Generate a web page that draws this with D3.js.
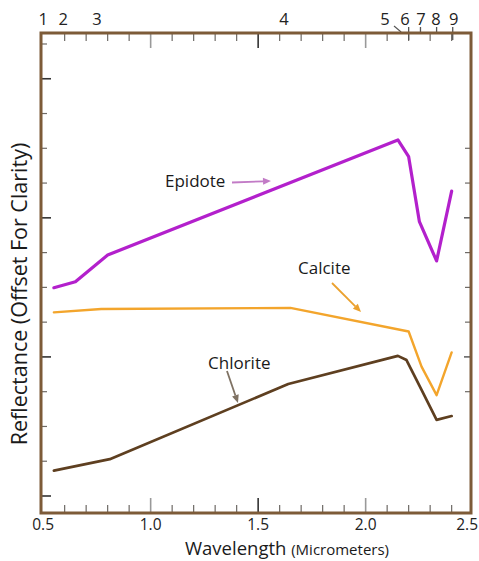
<!DOCTYPE html>
<html>
<head>
<meta charset="utf-8">
<script src="https://cdn.jsdelivr.net/npm/d3@7"></script>
<style>
  html, body { margin: 0; padding: 0; background: #fff; }
  svg { display: block; font-family: "Open Sans", "Noto Sans", sans-serif; }
</style>
</head>
<body>
<svg id="chart" width="479" height="561"></svg>
<script>
// Spectral reflectance curves (offset for clarity), wavelengths in micrometers
const epidoteWl = [0.55, 0.65, 0.80, 2.15, 2.20, 2.25, 2.33, 2.40];
const epidoteRefl = [5.99, 6.16, 6.93, 10.24, 9.76, 7.89, 6.76, 8.77];

const calciteWl = [0.55, 0.77, 1.65, 2.20, 2.26, 2.33, 2.40];
const calciteRefl = [5.28, 5.38, 5.41, 4.73, 3.72, 2.90, 4.13];

const chloriteWl = [0.55, 0.81, 1.64, 2.15, 2.19, 2.26, 2.33, 2.40];
const chloriteRefl = [0.73, 1.06, 3.22, 4.03, 3.91, 3.05, 2.19, 2.30];

// Sensor band numbers along the top edge
const bandLabels = ["1", "2", "3", "4", "5", "6", "7", "8", "9"];
const bandLabelWl = [0.50, 0.593, 0.75, 1.62, 2.09, 2.183, 2.257, 2.327, 2.41];
const swirBandLabels = ["5", "6", "7", "8", "9"];
const swirBandWl = [2.165, 2.20, 2.255, 2.33, 2.405];

// Axis tick labels
const xTickValues = [0.5, 1.0, 1.5, 2.0, 2.5];
const xTickLabels = ["0.5", "1.0", "1.5", "2.0", "2.5"];

const svg = d3.select("#chart");
const plotLeft = 41, plotRight = 471, plotTop = 33, plotBottom = 513;
const width = 479;

const x = d3.scaleLinear().domain([0.49, 2.49]).range([plotLeft, plotRight]);
const y = d3.scaleLinear().domain([-0.489, 13.316]).range([plotBottom, plotTop]);

const frameColor = "#7d5b38";
const tickColor = "#6e6a66";

// Minor ticks every 0.1 µm, long ticks every 0.5 µm
const xMinor = d3.range(6, 25).map(d => d / 10);
const isMajor = v => Math.abs(v * 2 - Math.round(v * 2)) < 1e-6;

const gTicks = svg.append("g");
xMinor.forEach(v => {
  const len = isMajor(v) ? 15 : 8;
  const col = Math.abs(v - 1.5) < 1e-6 ? "#333" : (isMajor(v) ? "#999" : tickColor);
  gTicks.append("line")
    .attr("x1", x(v)).attr("x2", x(v))
    .attr("y1", plotTop).attr("y2", plotTop + len)
    .attr("stroke", col).attr("stroke-width", isMajor(v) ? 1.6 : 1.2);
  gTicks.append("line")
    .attr("x1", x(v)).attr("x2", x(v))
    .attr("y1", plotBottom).attr("y2", plotBottom - len)
    .attr("stroke", col).attr("stroke-width", isMajor(v) ? 1.6 : 1.2);
});

// Reflectance ticks (unlabelled) on both sides
const yTicks = d3.range(0, 14);
yTicks.forEach(v => {
  const major = v % 4 === 0;
  gTicks.append("line")
    .attr("x1", plotLeft).attr("x2", plotLeft + (major ? 10 : 6))
    .attr("y1", y(v)).attr("y2", y(v))
    .attr("stroke", major ? "#333" : tickColor).attr("stroke-width", major ? 1.6 : 1.2);
  if (v >= 3 && v <= 10) {
    gTicks.append("line")
      .attr("x1", plotRight).attr("x2", plotRight - (major ? 7 : 6))
      .attr("y1", y(v)).attr("y2", y(v))
      .attr("stroke", major ? "#333" : tickColor).attr("stroke-width", 1.2);
  }
});

// Bottom axis labels (the last one sits flush with the page edge)
const nearEdge = d => x(d) > width - 12;
svg.append("g").selectAll("text")
  .data(xTickValues)
  .join("text")
  .attr("x", d => nearEdge(d) ? width - 1 : x(d))
  .attr("y", 530)
  .attr("text-anchor", d => nearEdge(d) ? "end" : "middle")
  .attr("font-size", 15.5)
  .attr("fill", "#222")
  .text((d, i) => xTickLabels[i]);

// Band numbers along the top
svg.append("g").selectAll("text")
  .data(bandLabels)
  .join("text")
  .attr("x", (d, i) => x(bandLabelWl[i]))
  .attr("y", 25)
  .attr("text-anchor", "middle")
  .attr("font-size", 16.5)
  .attr("fill", "#222")
  .text(d => d);

// Leader marks from the SWIR band numbers down to the frame
swirBandLabels.forEach((b, i) => {
  const bx = x(swirBandWl[i]);
  if (b === "5") {
    svg.append("line")
      .attr("x1", x(bandLabelWl[4]) + 9).attr("y1", 26)
      .attr("x2", bx).attr("y2", 32)
      .attr("stroke", "#555").attr("stroke-width", 1.1);
  } else {
    svg.append("line")
      .attr("x1", bx).attr("x2", bx)
      .attr("y1", 27).attr("y2", b === "6" || b === "9" ? 40 : 34)
      .attr("stroke", "#555").attr("stroke-width", 1.3);
  }
});

// Frame
svg.append("rect")
  .attr("x", plotLeft).attr("y", plotTop)
  .attr("width", plotRight - plotLeft).attr("height", plotBottom - plotTop)
  .attr("fill", "none")
  .attr("stroke", frameColor)
  .attr("stroke-width", 3);

// Spectra
const line = d3.line().x(d => x(d[0])).y(d => y(d[1]));
const series = [
  { wl: epidoteWl, r: epidoteRefl, color: "#b320cc", width: 3.2 },
  { wl: calciteWl, r: calciteRefl, color: "#f3a52c", width: 2.4 },
  { wl: chloriteWl, r: chloriteRefl, color: "#5e3f20", width: 2.7 }
];
series.forEach(s => {
  svg.append("path")
    .datum(s.wl.map((w, i) => [w, s.r[i]]))
    .attr("d", line)
    .attr("fill", "none")
    .attr("stroke", s.color)
    .attr("stroke-width", s.width)
    .attr("stroke-linejoin", "round")
    .attr("stroke-linecap", "round");
});

// Callout labels with arrows
function arrow(x1, y1, x2, y2, color, w) {
  const a = Math.atan2(y2 - y1, x2 - x1);
  const hl = 8, hw = 3.5;
  const bx = x2 - hl * Math.cos(a), by = y2 - hl * Math.sin(a);
  svg.append("line")
    .attr("x1", x1).attr("y1", y1).attr("x2", bx).attr("y2", by)
    .attr("stroke", color).attr("stroke-width", w);
  svg.append("path")
    .attr("d", `M${x2},${y2}L${bx - hw * Math.sin(a)},${by + hw * Math.cos(a)}L${bx + hw * Math.sin(a)},${by - hw * Math.cos(a)}Z`)
    .attr("fill", color);
}

const callouts = [
  { text: "Epidote", tx: 165, ty: 187, a: [232, 182.5, 271, 181], color: "#c27bc6" },
  { text: "Calcite", tx: 298, ty: 274, a: [332, 283, 361, 312], color: "#eba12e" },
  { text: "Chlorite", tx: 208, ty: 369, a: [227, 371, 238, 403], color: "#7f7263" }
];
callouts.forEach(c => {
  svg.append("text")
    .attr("x", c.tx).attr("y", c.ty)
    .attr("font-size", 17)
    .attr("fill", "#1a1a1a")
    .text(c.text);
  arrow(c.a[0], c.a[1], c.a[2], c.a[3], c.color, 1.8);
});

// Axis titles
svg.append("text")
  .attr("transform", `translate(27, 294) rotate(-90)`)
  .attr("text-anchor", "middle")
  .attr("font-size", 21.5)
  .attr("fill", "#1a1a1a")
  .text("Reflectance (Offset For Clarity)");

const xt = svg.append("text")
  .attr("x", 185).attr("y", 555)
  .attr("fill", "#1a1a1a");
xt.append("tspan").attr("font-size", 18.5).text("Wavelength ");
xt.append("tspan").attr("font-size", 15).text("(Micrometers)");
</script>
</body>
</html>
